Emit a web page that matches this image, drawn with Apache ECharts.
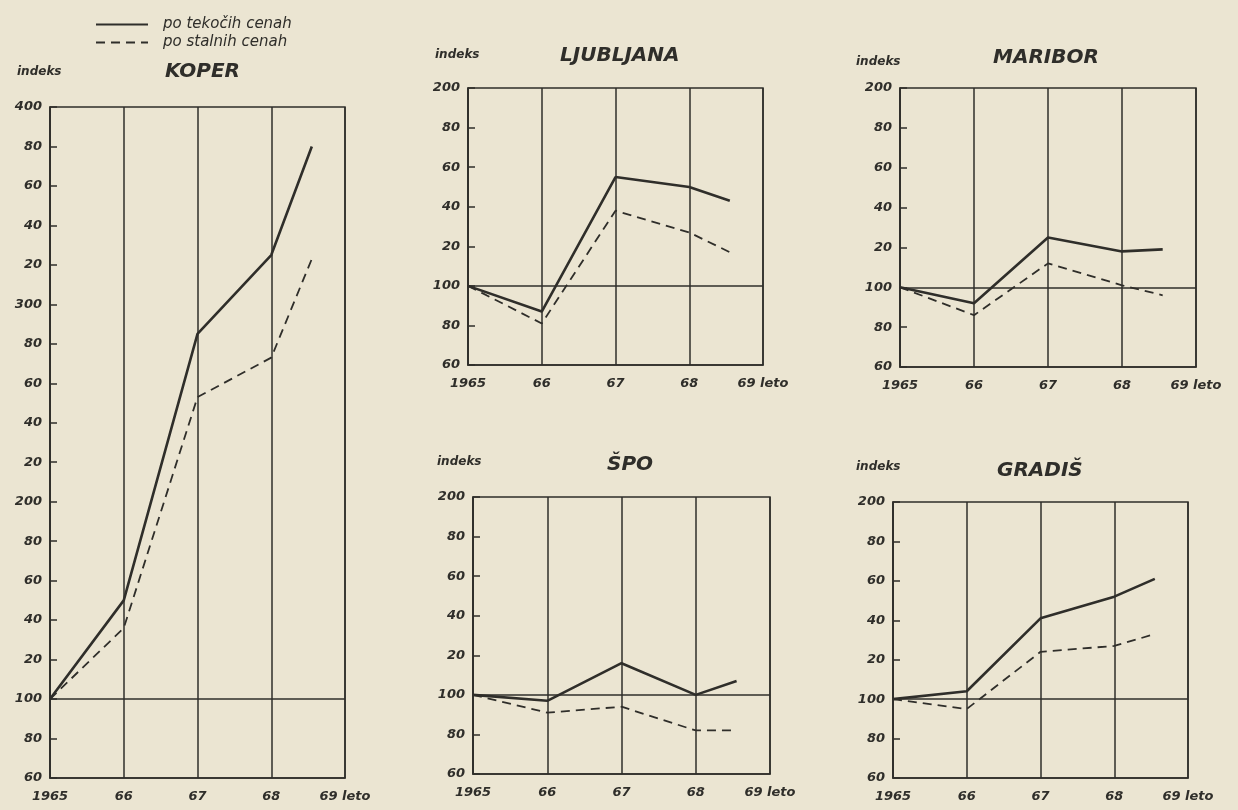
<!DOCTYPE html>
<html>
<head>
<meta charset="utf-8">
<script src="https://cdn.jsdelivr.net/npm/echarts@6/dist/echarts.min.js"></script>
<style>
html,body{margin:0;padding:0;background:#ebe5d2;}
#c{width:1238px;height:810px;}
</style>
</head>
<body>
<div id="c"></div>
<script>
// ---- data ----
const years = [1965, 1966, 1967, 1968, 1968.55];
const xTickLabels = ['1965', '66', '67', '68', '69 leto'];
const seriesNames = ['po tekočih cenah', 'po stalnih cenah'];
const chartTitles = ['KOPER', 'LJUBLJANA', 'MARIBOR', 'ŠPO', 'GRADIŠ'];
const yLabel = 'indeks';

const koperTekoce = [100, 150, 285, 325, 380];
const koperStalne = [100, 136, 253, 273, 323];
const ljubljanaTekoce = [100, 87, 155, 150, 143];
const ljubljanaStalne = [100, 81, 138, 127, 117];
const mariborTekoce = [100, 92, 125, 118, 119];
const mariborStalne = [100, 86, 112, 101, 96];
const spoTekoce = [100, 97, 116, 100, 107];
const spoStalne = [100, 91, 94, 82, 82];
const gradisTekoce = [100, 104, 141, 152, 161];
const gradisStalne = [100, 95, 124, 127, 133];

const yRanges = [[60, 400], [60, 200], [60, 200], [60, 200], [60, 200]];
const baseIndex = 100;

// ---- layout / style ----
const INK = '#2f2e2a';
const FONT = 'DejaVu Sans';
const grids = [
  {left: 50, top: 107, width: 295, height: 671},
  {left: 468, top: 88, width: 295, height: 277},
  {left: 900, top: 88, width: 296, height: 279},
  {left: 473, top: 497, width: 297, height: 277},
  {left: 893, top: 502, width: 295, height: 276}
];
const titlePos = [
  {t: [160, 57], i: [12, 61]},
  {t: [555, 41], i: [430, 44]},
  {t: [988, 43], i: [851, 51]},
  {t: [602, 450], i: [432, 451]},
  {t: [992, 456], i: [851, 456]}
];
const dataSets = [
  [koperTekoce, koperStalne],
  [ljubljanaTekoce, ljubljanaStalne],
  [mariborTekoce, mariborStalne],
  [spoTekoce, spoStalne],
  [gradisTekoce, gradisStalne]
];

const title = [];
chartTitles.forEach((t, k) => {
  title.push({text: t, left: titlePos[k].t[0], top: titlePos[k].t[1],
    textStyle: {fontFamily: FONT, fontSize: 20, fontWeight: 'bold', fontStyle: 'italic', color: INK}});
  title.push({text: yLabel, left: titlePos[k].i[0], top: titlePos[k].i[1],
    textStyle: {fontFamily: FONT, fontSize: 12, fontWeight: 'bold', fontStyle: 'italic', color: INK}});
});

const xAxis = [], yAxis = [], series = [];
grids.forEach((g, k) => {
  g.show = true; g.borderColor = INK; g.borderWidth = 1.5; g.backgroundColor = 'transparent';
  xAxis.push({
    type: 'value', gridIndex: k, min: 1965, max: 1969, interval: 1,
    axisLine: {show: true, lineStyle: {color: INK, width: 1.5}},
    axisTick: {show: false},
    splitLine: {show: true, lineStyle: {color: INK, width: 1.5}},
    axisLabel: {
      color: INK, fontFamily: FONT, fontSize: 13, fontWeight: 'bold', fontStyle: 'italic', margin: 12,
      formatter: v => xTickLabels[Math.round(v - 1965)]
    }
  });
  yAxis.push({
    type: 'value', gridIndex: k, min: yRanges[k][0], max: yRanges[k][1], interval: 20,
    axisLine: {show: true, lineStyle: {color: INK, width: 1.5}},
    axisTick: {show: true, inside: true, length: 7, lineStyle: {color: INK, width: 1.5}},
    splitLine: {show: false},
    axisLabel: {
      color: INK, fontFamily: FONT, fontSize: 13, fontWeight: 'bold', fontStyle: 'italic', margin: 8,
      formatter: v => (v % 100 === 0 ? String(v) : String(v % 100))
    }
  });
  const [tek, stal] = dataSets[k];
  series.push({
    name: seriesNames[0], type: 'line', xAxisIndex: k, yAxisIndex: k,
    data: years.map((y, i) => [y, tek[i]]),
    symbol: 'none', lineStyle: {color: INK, width: 2.6, type: 'solid'}, itemStyle: {color: INK},
    silent: true, animation: false,
    markLine: {silent: true, symbol: 'none', label: {show: false},
      lineStyle: {color: INK, width: 1.6, type: 'solid'}, data: [{yAxis: baseIndex}]}
  });
  series.push({
    name: seriesNames[1], type: 'line', xAxisIndex: k, yAxisIndex: k,
    data: years.map((y, i) => [y, stal[i]]),
    symbol: 'none', lineStyle: {color: INK, width: 1.8, type: [9, 6]}, itemStyle: {color: INK},
    silent: true, animation: false
  });
});

const chart = echarts.init(document.getElementById('c'));
chart.setOption({
  backgroundColor: '#ebe5d2',
  animation: false,
  title: title,
  legend: {
    data: seriesNames, orient: 'vertical', left: 90, top: 12, itemGap: 3,
    itemWidth: 52, itemHeight: 12, selectedMode: false,
    itemStyle: {opacity: 0},
    textStyle: {color: INK, fontFamily: FONT, fontSize: 15, fontStyle: 'italic', padding: [0, 0, 0, 10]}
  },
  grid: grids, xAxis: xAxis, yAxis: yAxis, series: series
});
</script>
</body>
</html>
